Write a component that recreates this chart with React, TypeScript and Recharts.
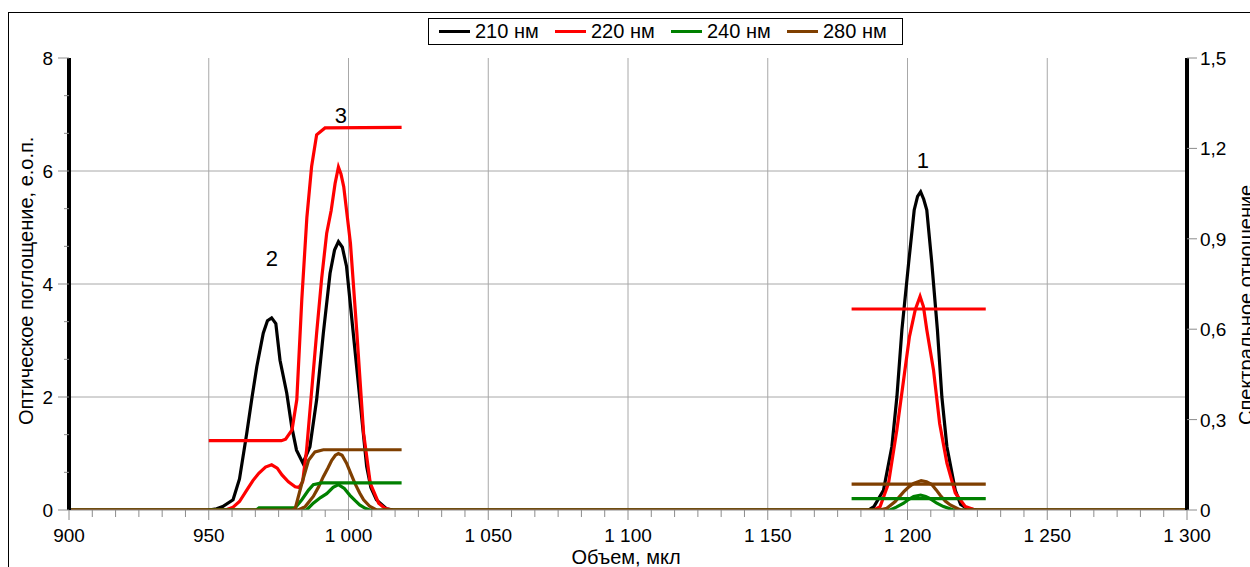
import {
  LineChart,
  Line,
  XAxis,
  YAxis,
  CartesianGrid,
  ReferenceDot,
} from "recharts";

type Pt = { x: number; y: number | null };

// оптическое поглощение (левая ось), [объем, е.о.п.]
const abs210: number[][] = [
  [900, 0], [950, 0], [952.8, 0.02], [955, 0.06], [958.7, 0.18], [961, 0.55],
  [963.6, 1.36], [965.5, 2.0], [967.2, 2.54], [969.5, 3.13], [971, 3.35],
  [972.5, 3.4], [974, 3.3], [975.5, 2.65], [977.9, 2.07], [979.7, 1.47],
  [981.4, 1.06], [983.7, 0.83], [986.2, 1.12], [988.6, 1.95], [991, 3.13],
  [993.4, 4.19], [995, 4.6], [996.4, 4.75], [997.8, 4.65], [999.3, 4.31],
  [1001.7, 3.13], [1004.1, 1.95], [1006.5, 0.77], [1008, 0.4], [1010, 0.18],
  [1013.7, 0.02], [1016, 0], [1186, 0], [1188, 0.06], [1191.4, 0.35],
  [1194.4, 1.12], [1196.2, 2.0], [1198, 3.19], [1200.4, 4.37], [1202.4, 5.31],
  [1203.6, 5.55], [1204.7, 5.63], [1205.8, 5.5], [1206.9, 5.31], [1208.7, 4.37],
  [1210.7, 3.19], [1212.3, 2.0], [1214.1, 1.12], [1217.1, 0.35], [1219, 0.1],
  [1221.2, 0.03], [1224.8, 0], [1300, 0],
];

const abs220: number[][] = [
  [900, 0], [956, 0], [958.7, 0.05], [961, 0.15], [963.6, 0.35], [965.8, 0.52],
  [967.9, 0.65], [970.3, 0.76], [972.5, 0.8], [974.5, 0.74], [976.2, 0.62],
  [978.5, 0.5], [980.9, 0.41], [982.3, 0.4], [983.6, 0.5], [985, 1.06],
  [986.8, 2.1], [988.6, 3.13], [990.4, 4.1], [992.2, 4.9], [993.8, 5.3],
  [995.2, 5.78], [996.4, 6.07], [997.3, 5.95], [998.3, 5.72], [1000.7, 4.72],
  [1003, 3.13], [1005.4, 1.36], [1007.8, 0.47], [1010.8, 0.12], [1013, 0.03],
  [1015.5, 0], [1188, 0], [1190.2, 0.06], [1193.2, 0.47], [1196.2, 1.42],
  [1198.6, 2.3], [1200.7, 3.07], [1202.8, 3.55], [1204.5, 3.78], [1205.7, 3.6],
  [1206.9, 3.19], [1209.3, 2.48], [1211.5, 1.53], [1214.1, 0.83], [1217.1, 0.3],
  [1220.7, 0.06], [1224.2, 0], [1300, 0],
];

const abs240: number[][] = [
  [900, 0], [985, 0], [987.4, 0.12], [990, 0.22], [992.2, 0.29], [994.5, 0.4],
  [996.4, 0.45], [998.5, 0.38], [1000.5, 0.26], [1002.3, 0.17], [1004, 0.09],
  [1006, 0.03], [1007.6, 0], [1193.8, 0], [1196, 0.05], [1198.6, 0.12],
  [1200.5, 0.19], [1202.2, 0.24], [1204.7, 0.265], [1206.5, 0.24], [1208.1, 0.2],
  [1210.5, 0.12], [1212.9, 0.06], [1216.5, 0], [1300, 0],
];

const abs280: number[][] = [
  [900, 0], [982, 0], [984.5, 0.06], [987.4, 0.24], [989.2, 0.4], [991, 0.59],
  [992.6, 0.74], [994, 0.88], [995.3, 0.97], [996.4, 1.0], [997.7, 0.97],
  [999.3, 0.83], [1000.8, 0.65], [1002.3, 0.47], [1004, 0.3], [1005.4, 0.18],
  [1007.5, 0.07], [1010, 0], [1190, 0], [1192.6, 0.03], [1195.6, 0.15],
  [1198.6, 0.32], [1200.5, 0.41], [1202.2, 0.47], [1204.9, 0.52], [1206.8, 0.5],
  [1208.7, 0.45], [1210.2, 0.36], [1211.7, 0.26], [1213.5, 0.16], [1215.3, 0.09],
  [1218.9, 0], [1300, 0],
];

// спектральное отношение (правая ось), null = разрыв
const ratio220: (number | null)[][] = [
  [950, 0.23], [976, 0.23], [977.5, 0.235], [979.8, 0.266], [981.5, 0.366],
  [983.3, 0.7], [985.1, 0.97], [986.8, 1.14], [988.6, 1.245], [991.6, 1.268],
  [1019, 1.27], [1100, null], [1180, 0.667], [1228, 0.667],
];

const ratio240: (number | null)[][] = [
  [950, 0], [967, 0], [968, 0.007], [981, 0.008], [983.3, 0.034], [985.7, 0.066],
  [987.4, 0.084], [990.4, 0.09], [1019, 0.09], [1100, null], [1180, 0.038],
  [1228, 0.038],
];

const ratio280: (number | null)[][] = [
  [950, 0], [980, 0], [980.9, 0.004], [983.3, 0.088], [985.7, 0.165], [988, 0.193],
  [991, 0.2], [1019, 0.2], [1100, null], [1180, 0.086], [1228, 0.086],
];

const X_MAJOR = [900, 950, 1000, 1050, 1100, 1150, 1200, 1250, 1300];
const Y_LEFT_MAJOR = [0, 2, 4, 6, 8];
const Y_RIGHT_TICKS = [0, 0.3, 0.6, 0.9, 1.2, 1.5];

const PEAK_LABELS = [
  { name: "1", x: 1205.5, y: 6.19 },
  { name: "2", x: 972.6, y: 4.46 },
  { name: "3", x: 997.3, y: 6.99 },
];

const SERIES = [
  { name: "210 нм", color: "#000000" },
  { name: "220 нм", color: "#ff0000" },
  { name: "240 нм", color: "#008000" },
  { name: "280 нм", color: "#7f3f00" },
];

const FONT = '"Liberation Sans", Arial, sans-serif';
const TICK_GRAY = "#8c8c8c";

const toPts = (arr: (number | null)[][]): Pt[] =>
  arr.map(([x, y]) => ({ x: x as number, y }));

// минорные деления: 6 на 50 мкл по X, 3 на 2 е.о.п. по Y
const xTicks: number[] = [];
X_MAJOR.forEach((v, i) => {
  if (i === X_MAJOR.length - 1) { xTicks.push(v); return; }
  for (let k = 0; k < 6; k++) xTicks.push(v + (k * 50) / 6);
});
const yTicks: number[] = [];
Y_LEFT_MAJOR.forEach((v, i) => {
  if (i === Y_LEFT_MAJOR.length - 1) { yTicks.push(v); return; }
  for (let k = 0; k < 3; k++) yTicks.push(v + (k * 2) / 3);
});

const isMajor = (v: number, list: number[]) =>
  list.some((m) => Math.abs(m - v) < 1e-6);

const fmtX = (v: number) =>
  v >= 1000
    ? `${Math.floor(v / 1000)} ${String(Math.round(v % 1000)).padStart(3, "0")}`
    : String(v);

const XTick = (props: any) => {
  const { x, y, payload } = props;
  const major = isMajor(payload.value, X_MAJOR);
  return (
    <g>
      <line x1={x} x2={x} y1={y} y2={y + (major ? 10 : 7)} stroke={TICK_GRAY} />
      {major && (
        <text
          x={x}
          y={y + 32}
          textAnchor="middle"
          fontSize={19}
          fontFamily={FONT}
          fill="#000"
          style={{ whiteSpace: "pre" }}
        >
          {fmtX(Math.round(payload.value))}
        </text>
      )}
    </g>
  );
};

const YLeftTick = (props: any) => {
  const { x, y, payload } = props;
  const major = isMajor(payload.value, Y_LEFT_MAJOR);
  return (
    <g>
      <line x1={x - (major ? 11 : 5)} x2={x} y1={y} y2={y} stroke={TICK_GRAY} />
      {major && (
        <text x={x - 16} y={y + 7} textAnchor="end" fontSize={19} fontFamily={FONT} fill="#000">
          {Math.round(payload.value)}
        </text>
      )}
    </g>
  );
};

const YRightTick = (props: any) => {
  const { x, y, payload } = props;
  return (
    <g>
      <line x1={x} x2={x + 10} y1={y} y2={y} stroke={TICK_GRAY} />
      <text x={x + 13} y={y + 7} textAnchor="start" fontSize={19} fontFamily={FONT} fill="#000">
        {payload.value === 0 ? "0" : payload.value.toFixed(1).replace(".", ",")}
      </text>
    </g>
  );
};

const PeakLabel = (props: any) => {
  const vb = props.viewBox || {};
  const cx = (vb.x || 0) + (vb.width || 0) / 2;
  const cy = (vb.y || 0) + (vb.height || 0) / 2;
  return (
    <text x={cx} y={cy + 8} textAnchor="middle" fontSize={22} fontFamily={FONT} fill="#000">
      {props.value}
    </text>
  );
};

const App = () => {
  const absData = [abs210, abs220, abs240, abs280].map(toPts);
  const ratioData = [
    { data: toPts(ratio220), color: SERIES[1].color },
    { data: toPts(ratio240), color: SERIES[2].color },
    { data: toPts(ratio280), color: SERIES[3].color },
  ];

  return (
    <div
      style={{
        position: "fixed",
        left: 0,
        top: 0,
        width: 1250,
        height: 567,
        overflow: "hidden",
        background: "#fff",
        fontFamily: FONT,
      }}
    >
      <div
        style={{
          position: "absolute",
          left: 8,
          top: 12,
          width: 1300,
          height: 600,
          border: "1px solid #000",
        }}
      />

      <LineChart
        width={1250}
        height={567}
        margin={{ top: 58, left: 9, right: 3, bottom: 27 }}
        style={{ position: "absolute", left: 0, top: 0 }}
      >
        <CartesianGrid
          stroke="#a8a8a8"
          horizontalValues={[2, 4, 6]}
          verticalValues={[950, 1000, 1050, 1100, 1150, 1200, 1250]}
        />
        <XAxis
          dataKey="x"
          type="number"
          domain={[900, 1300]}
          ticks={xTicks}
          interval={0}
          tick={<XTick />}
          tickLine={false}
          tickSize={0}
          tickMargin={0}
          height={30}
          axisLine={{ stroke: "#8c8c8c" }}
          allowDataOverflow
        />
        <YAxis
          type="number"
          domain={[0, 8]}
          ticks={yTicks}
          interval={0}
          tick={<YLeftTick />}
          tickLine={false}
          tickSize={0}
          tickMargin={0}
          width={60}
          axisLine={{ stroke: "#000", strokeWidth: 4 }}
          allowDataOverflow
        />
        <YAxis
          yAxisId="right"
          orientation="right"
          type="number"
          domain={[0, 1.5]}
          ticks={Y_RIGHT_TICKS}
          interval={0}
          tick={<YRightTick />}
          tickLine={false}
          tickSize={0}
          tickMargin={0}
          width={60}
          axisLine={{ stroke: "#000", strokeWidth: 4 }}
          allowDataOverflow
        />

        {absData.map((d, i) => (
          <Line
            key={SERIES[i].name}
            data={d}
            dataKey="y"
            type="linear"
            stroke={SERIES[i].color}
            strokeWidth={3.2}
            dot={false}
            activeDot={false}
            isAnimationActive={false}
          />
        ))}
        {ratioData.map((r, i) => (
          <Line
            key={"ratio" + i}
            yAxisId="right"
            data={r.data}
            dataKey="y"
            type="linear"
            stroke={r.color}
            strokeWidth={3.2}
            dot={false}
            activeDot={false}
            isAnimationActive={false}
          />
        ))}

        {PEAK_LABELS.map((p) => (
          <ReferenceDot
            key={p.name}
            x={p.x}
            y={p.y}
            r={0}
            fill="none"
            stroke="none"
            ifOverflow="visible"
            label={<PeakLabel value={p.name} />}
          />
        ))}
      </LineChart>

      <svg
        width={1250}
        height={567}
        style={{ position: "absolute", left: 0, top: 0, pointerEvents: "none" }}
      >
        <text
          transform="translate(33,425) rotate(-90)"
          fontSize={20}
          fontFamily={FONT}
          fill="#000"
        >
          Оптическое поглощение, е.о.п.
        </text>
        <text
          transform="translate(1253,425) rotate(-90)"
          fontSize={20}
          fontFamily={FONT}
          fill="#000"
        >
          Спектральное отношение
        </text>
        <text x={626} y={564} textAnchor="middle" fontSize={20} fontFamily={FONT} fill="#000">
          Объем, мкл
        </text>
      </svg>

      <div
        style={{
          position: "absolute",
          left: 428,
          top: 18,
          width: 473,
          height: 25,
          border: "1px solid #000",
          background: "#fff",
        }}
      >
        {SERIES.map((s, i) => (
          <div
            key={s.name}
            style={{
              position: "absolute",
              left: 10 + i * 116,
              top: 0,
              height: 25,
              display: "flex",
              alignItems: "center",
              fontSize: 20,
              whiteSpace: "nowrap",
            }}
          >
            <span
              style={{
                display: "inline-block",
                width: 31,
                height: 3,
                background: s.color,
                marginRight: 5,
              }}
            />
            {s.name}
          </div>
        ))}
      </div>
    </div>
  );
};

export default App;
